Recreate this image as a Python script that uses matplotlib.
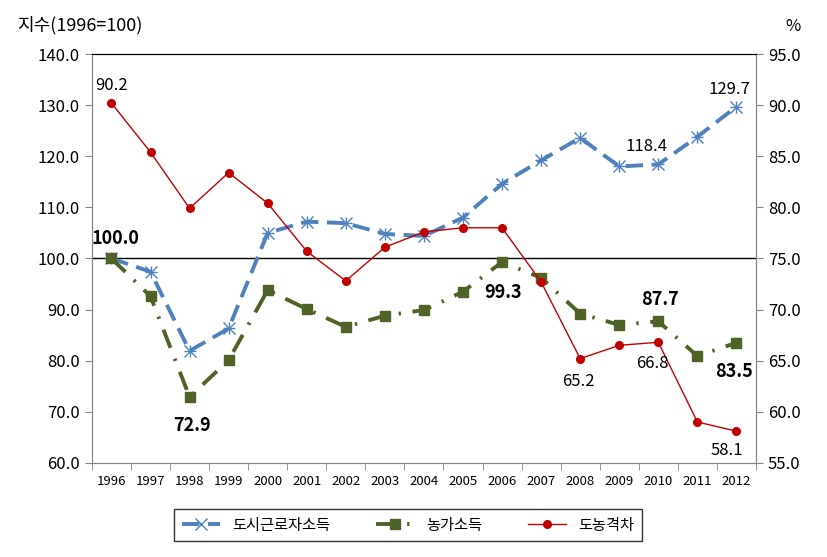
import numpy as np
import matplotlib
matplotlib.use('Agg')
import matplotlib.pyplot as plt

plt.rcParams['font.family'] = ['Noto Sans CJK KR', 'DejaVu Sans']

# 데이터
years = ['1996', '1997', '1998', '1999', '2000', '2001', '2002', '2003', '2004',
         '2005', '2006', '2007', '2008', '2009', '2010', '2011', '2012']
urban = [100.0, 97.4, 81.9, 86.3, 105.0, 107.2, 106.9, 104.8, 104.4,
         108.0, 114.6, 119.2, 123.6, 118.0, 118.4, 123.8, 129.7]
farm = [100.0, 92.6, 72.9, 80.1, 93.8, 90.1, 86.6, 88.8, 89.9,
        93.5, 99.3, 96.2, 89.2, 87.0, 87.7, 80.9, 83.5]
gap = [90.2, 85.4, 79.9, 83.4, 80.4, 75.7, 72.8, 76.1, 77.6,
       78.0, 78.0, 72.7, 65.2, 66.5, 66.8, 59.0, 58.1]

blue = '#4F81BD'
green = '#4F6228'
red = '#C00000'
gray = '#868686'

fig = plt.figure(figsize=(8.28, 5.57), dpi=100)
ax = fig.add_axes([0.111, 0.169, 0.802, 0.734])
ax2 = ax.twinx()
x = np.arange(len(years))

ax.plot(x, urban, color=blue, lw=2.8, ls=(0, (4.5, 2.2)), marker='x', ms=8,
        mew=1.0, label='도시근로자소득')
ax.plot(x, urban, color=blue, lw=0, marker='+', ms=9, mew=1.0)
ax.plot(x, farm, color=green, lw=2.8, ls=(0, (5, 3, 0.6, 3)), marker='s', ms=7,
        label='농가소득')
ax2.plot(x, gap, color=red, lw=1, marker='o', ms=5.5, label='도농격차')

ax.set_xlim(-0.5, len(years) - 0.5)
ax.set_ylim(60, 140)
ax.set_yticks(np.arange(60, 141, 10))
ax.set_yticklabels([f'{v:.1f}' for v in np.arange(60, 141, 10)], fontsize=12)
ax2.set_ylim(55, 95)
ax2.set_yticks(np.arange(55, 96, 5))
ax2.set_yticklabels([f'{v:.1f}' for v in np.arange(55, 96, 5)], fontsize=12)

ax.set_xticks(x)
ax.set_xticklabels(years, fontsize=9.5)
ax.set_xticks(np.arange(-0.5, len(years), 1), minor=True)
ax.tick_params(axis='x', which='major', length=0, pad=9)
ax.tick_params(axis='x', which='minor', length=5, color=gray, direction='out')
ax.tick_params(axis='y', length=5, color=gray, direction='out')
ax2.tick_params(axis='y', length=5, color=gray, direction='out')

ax.axhline(100, color='black', lw=1, zorder=1)
for a in (ax, ax2):
    a.spines['top'].set_color('black')
    a.spines['left'].set_color(gray)
    a.spines['right'].set_color(gray)
    a.spines['bottom'].set_color(gray)

fig.text(0.021, 0.955, '지수(1996=100)', fontsize=13, va='center')
fig.text(0.958, 0.952, '%', fontsize=12, va='center', ha='center')

# 데이터 레이블
bold = dict(fontsize=13, fontweight='bold', ha='center', va='center')
ax.text(0.09, 103.9, '100.0', **bold)
ax.text(2.05, 67.3, '72.9', **bold)
ax.text(10.02, 93.4, '99.3', **bold)
ax.text(14.04, 92.0, '87.7', **bold)
ax.text(15.94, 77.8, '83.5', **bold)

norm = dict(fontsize=12, ha='center', va='center')
ax.text(13.7, 122.0, '118.4', **norm)
ax.text(15.83, 133.0, '129.7', **norm)
ax2.text(0.0, 91.9, '90.2', **norm)
ax2.text(11.95, 63.0, '65.2', **norm)
ax2.text(13.86, 64.7, '66.8', **norm)
ax2.text(15.75, 56.25, '58.1', **norm)

h1, l1 = ax.get_legend_handles_labels()
h2, l2 = ax2.get_legend_handles_labels()
leg = fig.legend(h1 + h2, l1 + l2, loc='center', bbox_to_anchor=(0.493, 0.057),
                 ncol=3, fontsize=11, frameon=True, fancybox=False,
                 edgecolor='black', columnspacing=3.0, handlelength=2.5,
                 borderpad=0.5)
leg.get_frame().set_linewidth(1)

fig.savefig('out.png', dpi=100)
